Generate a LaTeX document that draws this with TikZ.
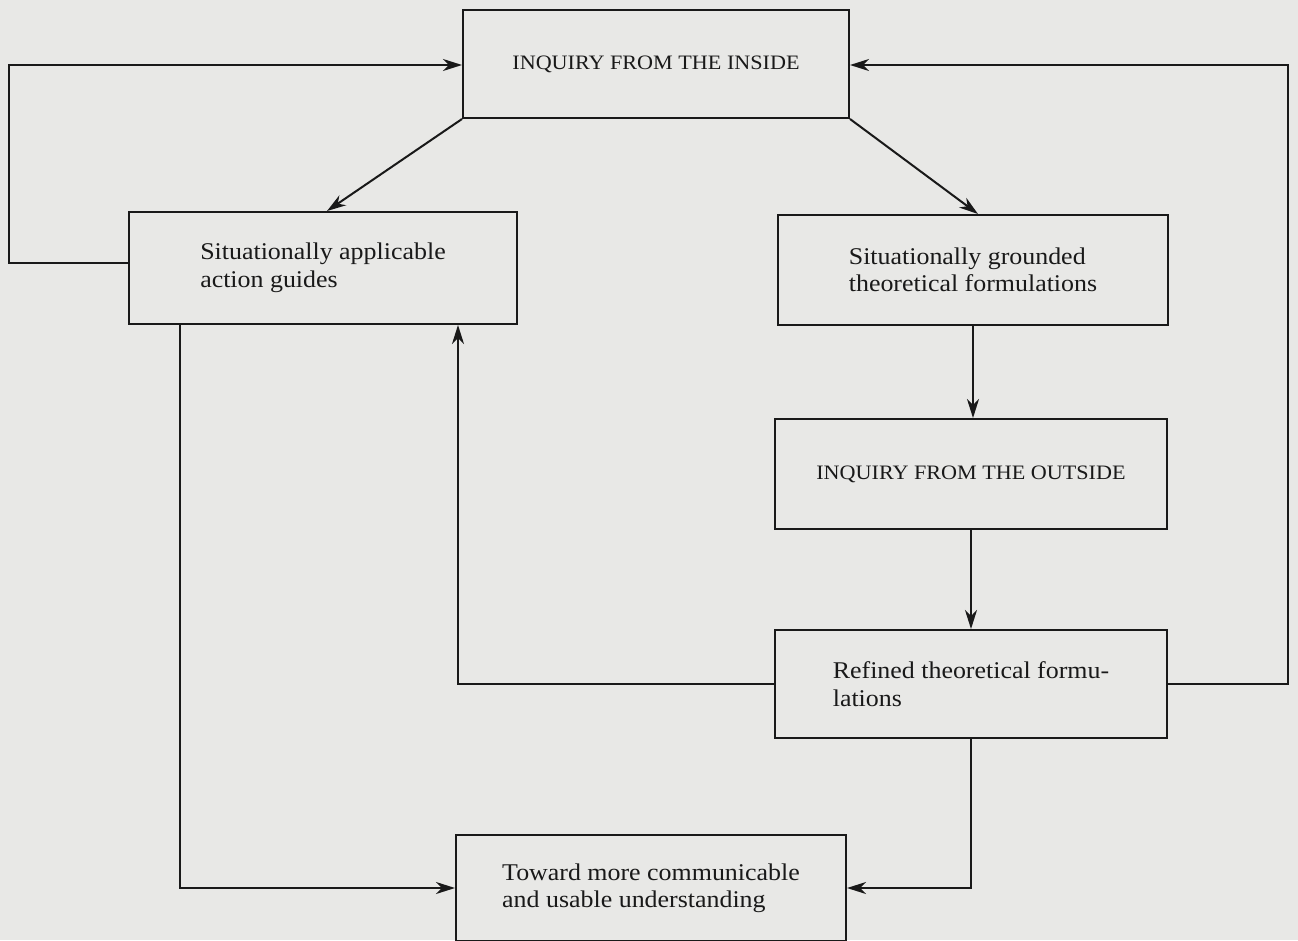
\documentclass[tikz,border=0pt]{standalone}
\usepackage{fontspec}
\setmainfont[FakeStretch=1.08]{Liberation Serif}
\usetikzlibrary{arrows.meta,calc}
\definecolor{paper}{RGB}{232,232,230}
\definecolor{ink}{RGB}{25,25,25}
\begin{document}
\begin{tikzpicture}[x=1pt,y=-1pt,
  box/.style={draw=ink, line width=2pt, align=left, inner sep=0pt, text=ink,
    font=\fontsize{24}{27.5}\selectfont},
  capbox/.style={box, font=\fontsize{20.5}{25}\selectfont},
  conn/.style={draw=ink, line width=2pt},
  arr/.style={conn, -{Stealth[length=19pt,width=12pt,inset=6pt]}}]
\fill[paper] (0,0) rectangle (1298,940);
\useasboundingbox (0,0) rectangle (1298,940);
% boxes
\node[capbox, minimum width=386pt, minimum height=108pt] (A) at (656,64) {INQUIRY FROM THE INSIDE};
\node[box, minimum width=388pt, minimum height=112pt] (B) at (323,268) {Situationally applicable\\action guides};
\node[box, minimum width=390pt, minimum height=110pt] (C) at (973,270) {Situationally grounded\\theoretical formulations};
\node[capbox, minimum width=392pt, minimum height=110pt] (E) at (971,474) {INQUIRY FROM THE OUTSIDE};
\node[box, minimum width=392pt, minimum height=108pt] (D) at (971,684) {Refined theoretical formu-\\lations};
\node[box, minimum width=390pt, minimum height=106pt] (F) at (651,888) {Toward more communicable\\and usable understanding};
% helper coordinates
\coordinate (l1) at (9,263);
\coordinate (l2) at (9,65);
\coordinate (r1) at (1288,684);
\coordinate (r2) at (1288,65);
\coordinate (m1) at (458,684);
\coordinate (n1) at (180,888);
% connectors
\draw[arr] (B.west |- l1) -- (l1) -- (l2) -- (A.west |- l2);
\draw[arr] (D.east) -- (r1) -- (r2) -- (A.east |- r2);
\draw[arr] (A.south west) -- ([xshift=4pt]B.north);
\draw[arr] (A.south east) -- ([xshift=5pt]C.north);
\draw[arr] (C.south) -- (C.south |- E.north);
\draw[arr] (E.south) -- (E.south |- D.north);
\draw[arr] (D.south) |- (F.east);
\draw[arr] (D.west) -- (m1) -- (m1 |- B.south);
\draw[arr] (B.south -| n1) -- (n1) -- (F.west);
\end{tikzpicture}
\end{document}
